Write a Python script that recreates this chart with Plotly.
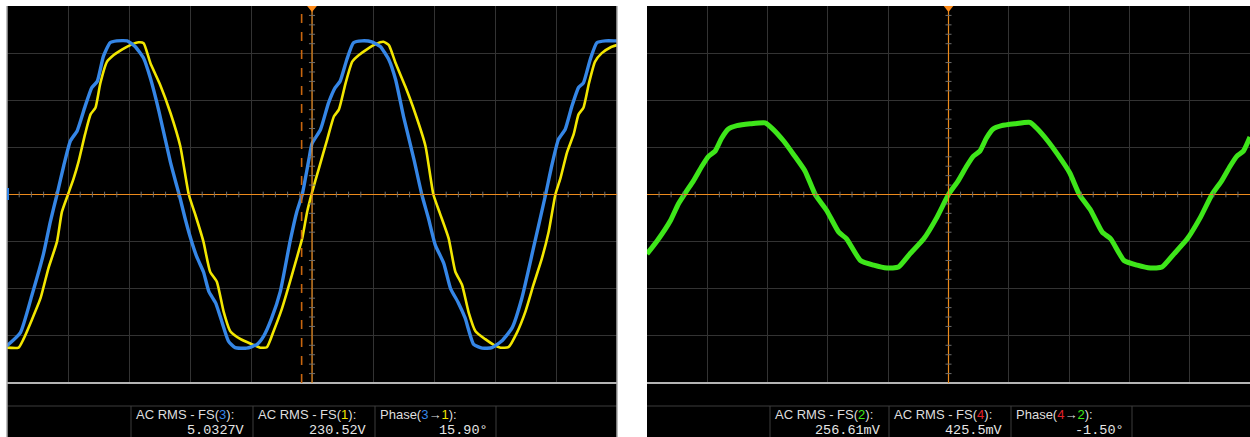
import plotly.graph_objects as go

W, H = 1250, 437

# ---------------- data (screen divisions: x 0..10, y -4..4) ----------------
# Left scope: channel 3 (blue) and channel 1 (yellow)
ch3_x = [0.00, 0.22, 0.41, 0.60, 0.71, 0.82, 0.93, 1.04, 1.15, 1.28, 1.39, 1.48, 1.58, 1.69,
         1.80, 1.97, 2.10, 2.24, 2.35, 2.49, 2.68, 2.79, 2.84, 2.92, 3.01, 3.11, 3.22, 3.31,
         3.42, 3.52, 3.63, 3.74, 3.93, 4.10, 4.21, 4.34, 4.48, 4.64, 4.75, 4.84, 4.95, 5.00,
         5.14, 5.27, 5.38, 5.46, 5.57, 5.68, 5.82, 5.98, 6.12, 6.26, 6.37, 6.50, 6.67, 6.80,
         6.91, 7.02, 7.16, 7.27, 7.40, 7.51, 7.65, 7.79, 7.95, 8.11, 8.28, 8.44, 8.63, 8.83,
         8.93, 9.04, 9.15, 9.26, 9.37, 9.45, 9.56, 9.67, 9.81, 9.97, 10.0]
ch3_y = [-3.21, -2.93, -2.13, -1.25, -0.58, 0.00, 0.61, 1.14, 1.35, 1.87, 2.27, 2.40, 2.93, 3.22,
         3.26, 3.26, 3.14, 2.89, 2.47, 1.77, 0.68, 0.15, -0.09, -0.51, -0.93, -1.32, -1.64, -2.06,
         -2.30, -2.69, -3.11, -3.25, -3.26, -3.18, -3.00, -2.62, -2.06, -1.00, -0.37, 0.00, 0.75, 1.08,
         1.38, 1.94, 2.27, 2.40, 2.86, 3.22, 3.26, 3.24, 3.14, 2.86, 2.44, 1.66, 0.75, 0.00,
         -0.51, -1.07, -1.46, -1.99, -2.30, -2.62, -3.18, -3.26, -3.25, -3.11, -2.83, -2.20, -1.14, 0.00,
         0.61, 1.17, 1.38, 1.87, 2.27, 2.37, 2.86, 3.22, 3.26, 3.26, 3.26]

ch1_x = [0.00, 0.19, 0.27, 0.41, 0.55, 0.68, 0.82, 0.90, 1.00, 1.09, 1.17, 1.28, 1.37, 1.45,
         1.53, 1.64, 1.75, 1.89, 2.02, 2.16, 2.24, 2.35, 2.51, 2.68, 2.84, 2.98, 3.09, 3.22,
         3.33, 3.44, 3.55, 3.66, 3.83, 4.02, 4.15, 4.26, 4.37, 4.51, 4.64, 4.75, 4.84, 4.92,
         5.00, 5.11, 5.25, 5.36, 5.44, 5.55, 5.66, 5.77, 5.90, 6.04, 6.17, 6.26, 6.37, 6.53,
         6.69, 6.86, 6.99, 7.10, 7.24, 7.35, 7.46, 7.57, 7.68, 7.84, 7.98, 8.09, 8.22, 8.36,
         8.50, 8.63, 8.77, 8.88, 8.99, 9.07, 9.18, 9.29, 9.37, 9.45, 9.54, 9.64, 9.75, 9.89, 10.0]
ch1_y = [-3.25, -3.25, -3.07, -2.65, -2.20, -1.56, -1.00, -0.37, 0.00, 0.33, 0.68, 1.28, 1.70, 1.84,
         2.36, 2.82, 2.96, 3.08, 3.17, 3.23, 3.21, 2.79, 2.33, 1.73, 1.03, 0.00, -0.44, -1.00,
         -1.64, -1.85, -2.48, -2.90, -3.07, -3.18, -3.25, -3.24, -2.90, -2.41, -1.85, -1.35, -0.93, -0.37,
         0.04, 0.54, 1.17, 1.66, 1.80, 2.36, 2.82, 2.96, 3.08, 3.19, 3.24, 3.17, 2.79, 2.29,
         1.73, 1.03, 0.00, -0.41, -0.93, -1.64, -1.92, -2.51, -2.90, -3.07, -3.19, -3.25, -3.24, -2.93,
         -2.48, -1.92, -1.35, -0.79, 0.00, 0.33, 0.89, 1.28, 1.70, 1.84, 2.36, 2.82, 3.00, 3.12, 3.17]

# Right scope: channel 2 (green)
ch2_x = [0.00, 0.17, 0.39, 0.52, 0.64, 0.77, 0.91, 1.02, 1.13, 1.24, 1.35, 1.49, 1.71, 1.96,
         2.07, 2.27, 2.43, 2.62, 2.79, 2.98, 3.18, 3.31, 3.54, 3.76, 3.98, 4.17, 4.36, 4.59,
         4.81, 5.00, 5.16, 5.30, 5.41, 5.52, 5.63, 5.74, 5.88, 6.10, 6.35, 6.46, 6.65, 6.81,
         7.01, 7.17, 7.36, 7.55, 7.69, 7.91, 8.13, 8.35, 8.54, 8.74, 8.96, 9.18, 9.37, 9.53,
         9.67, 9.78, 9.89, 10.0]
ch2_y = [-1.26, -0.98, -0.55, -0.20, 0.04, 0.29, 0.60, 0.81, 0.92, 1.20, 1.39, 1.46, 1.50, 1.52,
         1.41, 1.13, 0.85, 0.50, 0.00, -0.34, -0.80, -0.94, -1.40, -1.50, -1.56, -1.54, -1.26, -0.94,
         -0.48, 0.00, 0.29, 0.60, 0.81, 0.92, 1.20, 1.39, 1.46, 1.50, 1.53, 1.41, 1.13, 0.85,
         0.46, 0.00, -0.34, -0.80, -0.94, -1.40, -1.50, -1.56, -1.54, -1.26, -0.94, -0.48, 0.00, 0.29,
         0.60, 0.81, 0.92, 1.22]

# Cursor positions (divisions)
left_trigger = 5.0
left_cursor = 4.83
right_trigger = 5.0

# Measurement boxes: (label parts, value)
BLUE, YELLOW, GREEN, RED = "#3586e6", "#f2e600", "#3ee61a", "#e0202a"
left_meas = [
    ([("AC RMS - FS(", None), ("3", BLUE), ("):", None)], "5.0327V"),
    ([("AC RMS - FS(", None), ("1", YELLOW), ("):", None)], "230.52V"),
    ([("Phase(", None), ("3", BLUE), ("→", None), ("1", YELLOW), ("):", None)], "15.90°"),
]
right_meas = [
    ([("AC RMS - FS(", None), ("2", GREEN), ("):", None)], "256.61mV"),
    ([("AC RMS - FS(", None), ("4", RED), ("):", None)], "425.5mV"),
    ([("Phase(", None), ("4", RED), ("→", None), ("2", GREEN), ("):", None)], "-1.50°"),
]

# ---------------- layout geometry (pixels) ----------------
L0, L1 = 7, 617          # left panel
R0, R1 = 647, 1250       # right panel
TOP, BOT = 6, 383        # plot area
SEP = 406                # measurement row separator
left_div = [131, 253, 375, 496]
right_div = [770, 889, 1011, 1132]

def px(x):
    return x / W

def py(y):
    return 1 - y / H

ORANGE = "#ec8a1c"
ORANGE_D = "#c8660f"
GRID = "#333333"

fig = go.Figure()

fig.add_trace(go.Scatter(x=ch1_x, y=ch1_y, mode="lines", xaxis="x", yaxis="y",
                         line=dict(color=YELLOW, width=2.6, shape="spline", smoothing=0.5),
                         hoverinfo="skip", showlegend=False))
fig.add_trace(go.Scatter(x=ch3_x, y=ch3_y, mode="lines", xaxis="x", yaxis="y",
                         line=dict(color=BLUE, width=3.4, shape="spline", smoothing=0.5),
                         hoverinfo="skip", showlegend=False))
fig.add_trace(go.Scatter(x=ch2_x, y=ch2_y, mode="lines", xaxis="x2", yaxis="y2",
                         line=dict(color=GREEN, width=5, shape="spline", smoothing=0.5),
                         hoverinfo="skip", showlegend=False))

shapes = []
# bottom measurement strips
for a, b in [(L0, L1), (R0, R1)]:
    shapes.append(dict(type="rect", xref="paper", yref="paper", x0=px(a), x1=px(b),
                       y0=0, y1=py(BOT), fillcolor="black", line=dict(width=0), layer="below"))
    shapes.append(dict(type="line", xref="paper", yref="paper", x0=px(a), x1=px(b),
                       y0=py(BOT), y1=py(BOT), line=dict(color="#b4b4b4", width=2)))
    shapes.append(dict(type="line", xref="paper", yref="paper", x0=px(a), x1=px(b),
                       y0=py(SEP), y1=py(SEP), line=dict(color="#3c3c3c", width=1)))
for xs in (left_div, right_div):
    for xd in xs:
        shapes.append(dict(type="line", xref="paper", yref="paper", x0=px(xd), x1=px(xd),
                           y0=0, y1=py(SEP), line=dict(color="#3c3c3c", width=1)))
# left panel borders
for xb in (L0, L1):
    shapes.append(dict(type="line", xref="paper", yref="paper", x0=px(xb), x1=px(xb),
                       y0=0, y1=py(TOP), line=dict(color="#a8a8a8", width=1.5)))

# center axes + minor ticks
for xr, yr, trig in (("x", "y", left_trigger), ("x2", "y2", right_trigger)):
    shapes.append(dict(type="line", xref=xr, yref=yr, x0=0, x1=10, y0=0, y1=0,
                       line=dict(color=ORANGE, width=1.2)))
    shapes.append(dict(type="line", xref=xr, yref=yr, x0=trig, x1=trig, y0=-4, y1=4,
                       line=dict(color=ORANGE, width=1.2)))
    for i in range(1, 50):
        if i % 5:
            xt = i * 0.2
            shapes.append(dict(type="line", xref=xr, yref=yr, x0=xt, x1=xt, y0=-0.06, y1=0.06,
                               line=dict(color="#6e6e6e", width=1)))
    for j in range(1, 40):
        if j % 5:
            yt = -4 + j * 0.2
            shapes.append(dict(type="line", xref=xr, yref=yr, x0=trig - 0.05, x1=trig + 0.05,
                               y0=yt, y1=yt, line=dict(color="#6e6e6e", width=1)))
    # trigger marker at top
    shapes.append(dict(type="path", xref=xr, yref="paper",
                       path=f"M {trig-0.08},{py(TOP)} L {trig+0.08},{py(TOP)} L {trig},{py(TOP+6)} Z",
                       fillcolor="#ff8c1a", line=dict(width=0)))

# cursor (dashed) in left panel
shapes.append(dict(type="line", xref="x", yref="y", x0=left_cursor, x1=left_cursor, y0=-4, y1=4,
                   line=dict(color=ORANGE_D, width=1.6, dash="dash")))
# channel 3 ground marker
shapes.append(dict(type="rect", xref="paper", yref="paper", x0=px(L0), x1=px(L0 + 2),
                   y0=py(200), y1=py(188), fillcolor=BLUE, line=dict(width=0)))

annotations = []
LABEL_FONT = dict(family="Liberation Sans, Arial, sans-serif", size=13, color="#dedede")
VALUE_FONT = dict(family="Liberation Mono, DejaVu Sans Mono, monospace", size=13.5, color="#e6e6e6")

def label_html(parts):
    out = ""
    for t, c in parts:
        out += f"<span style='color:{c}'>{t}</span>" if c else t
    return out

for meas, divs in ((left_meas, left_div), (right_meas, right_div)):
    for k, (parts, val) in enumerate(meas):
        annotations.append(dict(xref="paper", yref="paper", x=px(divs[k] + 3), y=py(414),
                                xanchor="left", yanchor="middle", showarrow=False,
                                text=label_html(parts), font=LABEL_FONT))
        annotations.append(dict(xref="paper", yref="paper", x=px(divs[k + 1] - 6), y=py(430),
                                xanchor="right", yanchor="middle", showarrow=False,
                                text=val, font=VALUE_FONT))

axis_common = dict(range=[0, 10], dtick=1, tick0=0, showgrid=True, gridcolor=GRID, gridwidth=1,
                   zeroline=False, showline=False, showticklabels=False, ticks="", fixedrange=True)
yaxis_common = dict(range=[-4, 4], dtick=1, tick0=0, showgrid=True, gridcolor=GRID, gridwidth=1,
                    zeroline=False, showline=False, showticklabels=False, ticks="", fixedrange=True)

fig.update_layout(
    width=W, height=H,
    margin=dict(l=0, r=0, t=0, b=0),
    paper_bgcolor="white", plot_bgcolor="black",
    xaxis=dict(domain=[px(L0), px(L1)], anchor="y", **axis_common),
    yaxis=dict(domain=[py(BOT), py(TOP)], anchor="x", **yaxis_common),
    xaxis2=dict(domain=[px(R0), px(R1)], anchor="y2", **axis_common),
    yaxis2=dict(domain=[py(BOT), py(TOP)], anchor="x2", **yaxis_common),
    shapes=shapes, annotations=annotations, showlegend=False,
)

fig.write_html("out.html", config={"displayModeBar": False},
               post_script="document.body.style.margin='0';document.body.style.overflow='hidden';")
